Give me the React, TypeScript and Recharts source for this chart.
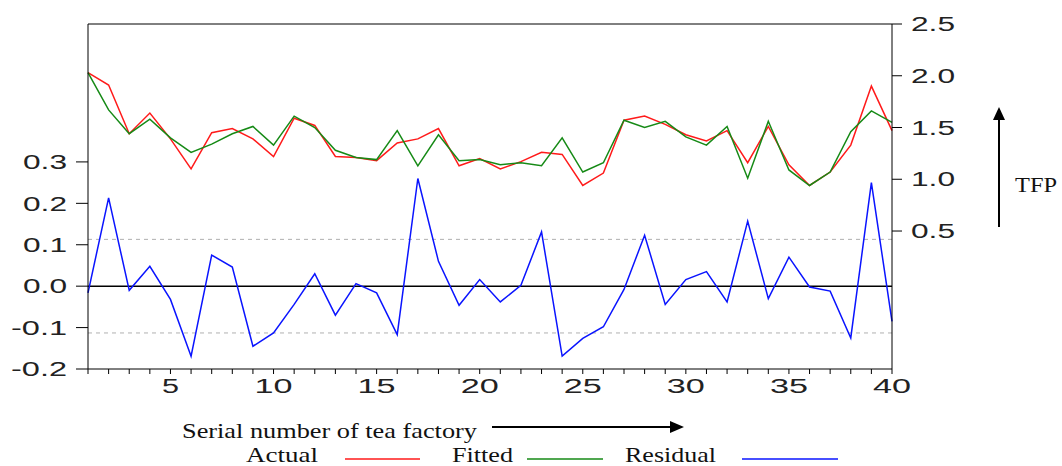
import { LineChart, Line, XAxis, YAxis, ReferenceLine } from 'recharts'

const factory = [
  1, 2, 3, 4, 5, 6, 7, 8, 9, 10, 11, 12, 13, 14, 15, 16, 17, 18, 19, 20,
  21, 22, 23, 24, 25, 26, 27, 28, 29, 30, 31, 32, 33, 34, 35, 36, 37, 38, 39, 40,
]

const actual = [
  2.03, 1.91, 1.44, 1.64, 1.39, 1.1, 1.45, 1.49, 1.39, 1.22, 1.59, 1.52, 1.22, 1.21, 1.18, 1.35,
  1.39, 1.49, 1.13, 1.2, 1.1, 1.17, 1.26, 1.24, 0.94, 1.06, 1.57, 1.61, 1.53, 1.43, 1.37, 1.47,
  1.16, 1.51, 1.14, 0.94, 1.07, 1.33, 1.9, 1.47,
]

const fitted = [
  2.03, 1.67, 1.44, 1.58, 1.4, 1.26, 1.34, 1.44, 1.51, 1.33, 1.61, 1.5, 1.28, 1.21, 1.19, 1.47,
  1.13, 1.43, 1.18, 1.19, 1.14, 1.16, 1.13, 1.4, 1.07, 1.16, 1.57, 1.5, 1.56, 1.41, 1.33, 1.51,
  1.01, 1.56, 1.09, 0.94, 1.07, 1.46, 1.66, 1.55,
]

const residual = [
  -0.016, 0.213, -0.01, 0.048, -0.032, -0.169, 0.075, 0.046, -0.145, -0.113, -0.044, 0.03, -0.07,
  0.006, -0.016, -0.117, 0.26, 0.06, -0.046, 0.016, -0.038, 0.002, 0.131, -0.169, -0.126, -0.098,
  -0.008, 0.123, -0.044, 0.016, 0.035, -0.038, 0.157, -0.03, 0.07, -0.002, -0.012, -0.125, 0.25,
  -0.085,
]

const residualTicks = [-0.2, -0.1, 0, 0.1, 0.2, 0.3]
const tfpTicks = [0.5, 1, 1.5, 2, 2.5]
const residualBand = 0.113

const data = factory.map((f, i) => ({
  factory: f,
  actual: actual[i],
  fitted: fitted[i],
  residual: residual[i],
}))

const axisFont = 'Liberation Sans'
const serifFont = 'Liberation Serif'

// glyphs in the original are stretched sideways, so force a width per label
const labelWidth = (s: string) =>
  s.split('').reduce((w, c) => w + (c === '.' ? 10 : c === '-' ? 12 : 17), 0)

function YTick({ x, y, payload, anchor }: any) {
  const s = Number(payload.value).toFixed(1)
  return (
    <text
      x={x}
      y={y}
      dy="0.36em"
      textAnchor={anchor}
      fontSize={20}
      fontFamily={axisFont}
      fill="#222"
      textLength={labelWidth(s)}
      lengthAdjust="spacingAndGlyphs"
    >
      {s}
    </text>
  )
}

function XTick({ x, y, payload }: any) {
  const v = Number(payload.value)
  if (v % 5 !== 0) return null
  const s = String(v)
  return (
    <text
      x={x}
      y={y}
      dy="0.71em"
      textAnchor="middle"
      fontSize={20}
      fontFamily={axisFont}
      fill="#222"
      textLength={labelWidth(s) + (s.length > 1 ? 4 : 0)}
      lengthAdjust="spacingAndGlyphs"
    >
      {s}
    </text>
  )
}

function SerifText({ x, y, size = 21, width, children }: any) {
  return (
    <text
      x={x}
      y={y}
      fontSize={size}
      fontFamily={serifFont}
      fill="#111"
      textLength={width}
      lengthAdjust="spacingAndGlyphs"
    >
      {children}
    </text>
  )
}

export default function App() {
  return (
    <div style={{ position: 'absolute', left: 0, top: 0, width: 1062, height: 466, background: '#fff' }}>
      <LineChart
        width={1062}
        height={466}
        data={data}
        margin={{ top: 24, right: 90, left: 0, bottom: 67 }}
      >
        <XAxis
          dataKey="factory"
          type="number"
          domain={[1, 40]}
          ticks={factory}
          interval={0}
          height={30}
          stroke="#000"
          tickSize={5}
          tickMargin={5}
          tick={<XTick />}
        />
        <YAxis
          yAxisId="left"
          domain={[-0.2, 0.633]}
          ticks={residualTicks}
          allowDataOverflow
          width={88}
          stroke="#000"
          tickSize={12}
          tickMargin={9}
          tick={<YTick anchor="end" />}
        />
        <YAxis
          yAxisId="right"
          orientation="right"
          domain={[-0.833, 2.5]}
          ticks={tfpTicks}
          allowDataOverflow
          width={80}
          stroke="#000"
          tickSize={10}
          tickMargin={9}
          tick={<YTick anchor="start" />}
        />
        <ReferenceLine yAxisId="right" y={2.5} stroke="#000" />
        <ReferenceLine yAxisId="left" y={residualBand} stroke="#b0b0b0" strokeDasharray="4 4" />
        <ReferenceLine yAxisId="left" y={-residualBand} stroke="#b0b0b0" strokeDasharray="4 4" />
        <ReferenceLine yAxisId="left" y={0} stroke="#000" strokeWidth={1.5} />
        <Line
          yAxisId="right"
          type="linear"
          dataKey="actual"
          stroke="#ff1a1a"
          strokeWidth={1.5}
          dot={false}
          isAnimationActive={false}
        />
        <Line
          yAxisId="right"
          type="linear"
          dataKey="fitted"
          stroke="#168a16"
          strokeWidth={1.5}
          dot={false}
          isAnimationActive={false}
        />
        <Line
          yAxisId="left"
          type="linear"
          dataKey="residual"
          stroke="#0a14ff"
          strokeWidth={1.5}
          dot={false}
          isAnimationActive={false}
        />
      </LineChart>

      <svg
        width={1062}
        height={466}
        style={{ position: 'absolute', left: 0, top: 0, pointerEvents: 'none' }}
      >
        <SerifText x={182} y={438} width={295}>Serial number of tea factory</SerifText>
        <line x1={492} y1={427} x2={672} y2={427} stroke="#000" strokeWidth={2} />
        <polygon points="684,427 670,421 670,433" fill="#000" />

        <SerifText x={246} y={462} width={72}>Actual</SerifText>
        <line x1={345} y1={459} x2={420} y2={459} stroke="#ff1a1a" strokeWidth={1.5} />
        <SerifText x={452} y={462} width={61}>Fitted</SerifText>
        <line x1={527} y1={459} x2={603} y2={459} stroke="#168a16" strokeWidth={1.5} />
        <SerifText x={625} y={462} width={91}>Residual</SerifText>
        <line x1={742} y1={459} x2={838} y2={459} stroke="#0a14ff" strokeWidth={1.5} />

        <line x1={999} y1={227} x2={999} y2={118} stroke="#000" strokeWidth={2} />
        <polygon points="999,107 993,120 1005,120" fill="#000" />
        <SerifText x={1015} y={192} size={22} width={42}>TFP</SerifText>
      </svg>
    </div>
  )
}
